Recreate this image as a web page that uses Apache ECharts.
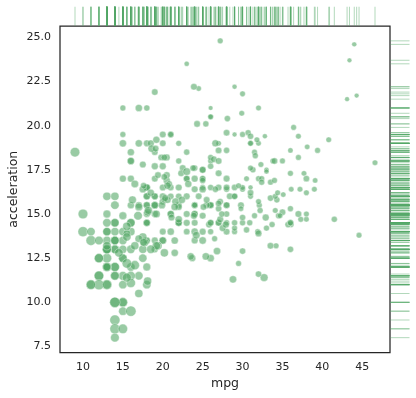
<!DOCTYPE html>
<html>
<head>
<meta charset="utf-8">
<script src="https://cdn.jsdelivr.net/npm/echarts@6/dist/echarts.min.js"></script>
<style>
  html, body { margin: 0; padding: 0; background: #fff; }
  #container { width: 416px; height: 398px; }
</style>
</head>
<body>
<div id="container"></div>
<script>
// auto-mpg: one entry per car, same order in all three arrays
var mpg = [
  18,15,18,16,17,15,14,14,14,15,15,14,15,14,
  24,22,18,21,27,26,25,24,25,26,21,10,10,11,9,
  27,28,25,25,19,16,17,19,18,14,14,14,14,12,13,13,
  18,22,19,18,23,28,30,30,31,35,27,26,24,25,23,20,21,
  13,14,15,14,17,11,13,12,13,19,15,13,13,14,
  18,22,21,26,22,28,23,28,27,
  13,14,13,14,15,12,13,13,14,13,12,13,
  18,16,18,18,23,26,
  11,12,13,12,
  18,20,21,22,18,19,21,26,
  15,16,
  29,24,20,19,
  15,24,20,11,
  20,21,19,15,
  31,26,32,25,
  16,16,18,16,13,14,14,14,
  29,26,26,31,32,28,24,26,24,26,31,
  19,18,15,15,
  16,15,16,14,
  17,16,15,18,
  21,20,13,
  29,23,20,23,24,25,24,18,29,19,23,23,22,25,33,28,25,25,26,27,
  17.5,16,15.5,14.5,
  22,22,24,22.5,
  29,24.5,29,33,
  20,18,18.5,17.5,
  29.5,32,28,26.5,20,
  13,19,19,
  16.5,16.5,13,13,13,
  31.5,30,36,25.5,33.5,
  17.5,17,15.5,15,
  17.5,20.5,19,18.5,
  16,15.5,15.5,16,
  29,24.5,26,25.5,30.5,33.5,30,30.5,
  22,21.5,21.5,
  43.1,36.1,32.8,39.4,36.1,
  19.9,19.4,20.2,19.2,20.5,20.2,25.1,20.5,19.4,20.6,20.8,18.6,18.1,19.2,17.7,18.1,17.5,
  30,27.5,27.2,30.9,21.1,23.2,23.8,23.9,
  20.3,17,21.6,16.2,
  31.5,29.5,21.5,19.8,22.3,20.2,20.6,
  17,17.6,16.5,18.2,16.9,15.5,19.2,18.5,
  31.9,34.1,35.7,27.4,25.4,23,27.2,23.9,
  34.2,34.5,31.8,37.3,28.4,28.8,26.8,33.5,41.5,38.1,32.1,37.2,28,26.4,24.3,19.1,
  34.3,29.8,31.3,37,32.2,46.6,27.9,40.8,44.3,43.4,36.4,30,44.6,40.9,33.8,29.8,
  32.7,23.7,35,23.6,32.4,27.2,26.6,25.8,23.5,30,
  39.1,39,35.1,32.3,37,37.7,34.1,34.7,34.4,29.9,33,34.5,33.7,32.4,32.9,31.6,
  28.1,30.7,25.4,24.2,22.4,26.6,20.2,17.6,
  28,27,34,31,29,27,24,23,36,37,31,38,36,36,36,34,38,32,38,25,38,26,22,32,36,27,27,44,32,28,31
];

var acceleration = [
  12,11.5,11,12,10.5,10,9,8.5,10,8.5,10,8,9.5,10,
  15,15.5,15.5,16,14.5,20.5,17.5,14.5,17.5,12.5,15,14,15,13.5,18.5,
  14.5,15.5,14,19,13,15.5,15.5,15.5,15.5,12,11.5,13.5,13,11.5,12,12,
  13.5,19,15,14.5,14,14,19.5,14.5,19,18,19,20.5,15.5,17,23.5,19.5,16.5,
  12,12,13.5,13,11.5,11,13.5,13.5,12.5,13.5,12.5,14,16,14,
  14.5,18,19.5,18,16,17,14.5,15,16.5,
  13,11.5,13,14.5,12.5,11.5,12,13,14.5,11,11,11,
  16.5,18,16,16.5,16,21,
  14,12.5,13,12.5,
  15,19,19.5,16.5,13.5,18.5,14,15.5,
  13,9.5,
  19.5,15.5,14,15.5,
  11,14,13.5,11,
  16.5,17,16,17,
  19,16.5,21,17,
  17,18,16.5,14,14.5,13.5,16,15.5,
  16.5,15.5,14.5,16.5,19,14.5,15.5,14,15,15.5,16,
  16,16,21,19.5,
  11.5,14,14.5,13.5,
  21,18.5,19,19,
  15,13.5,12,
  16,17,16,18.5,13.5,16.5,17,14.5,14,17,15,17,14.5,13.5,17.5,15.5,16.9,14.9,17.7,15.3,
  13,13,13.9,12.8,
  15.4,14.5,17.6,17.6,
  22.2,22.1,14.2,17.4,
  17.7,21,16.2,17.8,
  12.2,17,16.4,13.6,15.7,
  13.2,21.9,15.5,
  16.7,12.1,12,15,14,
  18.5,14.8,18.6,15.5,16.8,
  12.5,19,13.7,14.9,
  16.4,16.9,17.7,19,
  11.1,11.4,12.2,14.5,
  14.5,16,18.2,15.8,17,15.9,16.4,14.1,
  14.5,12.8,13.5,
  21.5,14.4,19.4,18.6,16.4,
  15.5,13.2,12.8,19.2,18.2,15.8,15.4,17.2,17.2,15.8,16.7,18.7,15.1,13.2,13.4,11.2,13.7,
  16.5,14.2,14.7,14.5,14.8,16.7,17.6,14.9,
  15.9,13.6,15.7,15.8,
  14.9,16.6,15.4,18.2,17.3,18.2,16.6,
  15.4,13.4,13.2,15.2,14.9,14.3,15,13,
  14,15.2,14.4,15,20.1,17.4,24.8,22.2,
  13.2,14.9,19.2,14.7,16,11.3,12.9,13.2,14.7,18.8,15.5,16.4,16.5,18.1,20.1,18.7,
  15.8,15.5,17.5,15,15.2,17.9,14.4,19.2,21.7,23.7,19.9,21.8,13.8,17.3,18,15.3,
  11.4,12.5,15.1,14.3,17,15.7,16.4,14.4,12.6,12.9,
  16.9,16.4,16.1,17.8,19.4,17.3,16,14.9,16.2,20.7,14.2,15.8,14.4,16.8,14.8,18.3,
  20.4,19.6,12.6,13.8,15.8,19,17.1,16.6,
  19.6,18.6,18,16.2,16,18,16.4,20.5,15.3,18.2,17.6,14.7,17.3,14.5,14.5,16.9,15,15.7,16.2,16.4,17,14.5,14.7,13.9,13,17.3,15.6,24.6,11.6,18.6,19.4
];

// marker size variable (null = missing, point not drawn)
var horsepower = [
  130,165,150,150,140,198,220,215,225,190,170,160,150,225,
  95,95,97,85,88,46,87,90,95,113,90,215,200,210,193,
  88,90,95,null,100,105,100,88,100,165,175,153,150,180,170,175,
  110,72,100,88,86,90,70,76,65,69,60,70,95,80,54,90,86,
  165,175,150,153,150,208,155,160,190,97,150,130,140,150,
  112,76,87,69,86,92,97,80,88,
  175,150,145,137,150,198,150,158,150,215,225,175,
  105,100,100,88,95,46,
  150,167,170,180,
  100,88,72,94,90,85,107,90,
  145,230,
  49,75,91,112,
  150,110,122,180,
  95,null,100,100,
  67,80,65,75,
  100,110,105,140,150,150,140,150,
  83,67,78,52,61,75,75,75,97,93,67,
  95,105,72,72,
  170,145,150,148,
  110,105,110,95,
  110,110,129,
  75,83,100,78,96,71,97,97,70,90,95,88,98,115,53,86,81,92,79,83,
  140,150,120,152,
  100,105,81,90,
  52,60,70,53,
  100,78,110,95,
  71,70,75,72,102,
  150,88,108,
  120,180,145,130,150,
  68,80,58,96,70,
  145,110,145,130,
  110,105,100,98,
  180,170,190,149,
  78,88,75,89,63,83,67,78,
  97,110,110,
  48,66,52,70,60,
  110,140,139,105,95,85,88,100,90,105,85,110,120,145,165,139,140,
  68,95,97,75,95,105,85,97,
  103,125,115,133,
  71,68,115,85,88,90,110,
  130,129,138,135,155,142,125,150,
  71,65,80,80,77,125,71,90,
  70,70,65,69,90,115,115,90,76,60,70,65,90,88,90,90,
  78,90,75,92,75,65,105,65,48,48,67,67,67,null,67,62,
  132,100,88,null,72,84,84,92,110,84,
  58,64,60,67,65,62,68,63,65,65,74,null,75,75,100,74,
  80,76,116,120,110,105,88,85,
  88,88,88,85,84,90,92,null,74,68,68,63,70,88,75,70,67,67,67,110,85,92,112,96,84,90,86,52,84,79,82
];

var xTicks = [10, 15, 20, 25, 30, 35, 40, 45];
var yTicks = [7.5, 10, 12.5, 15, 17.5, 20, 22.5, 25];

var myChart = echarts.init(document.getElementById('container'));

var n = Math.min(mpg.length, acceleration.length, horsepower.length);
var points = [];
var rugX = [];
var rugY = [];
for (var i = 0; i < n; i++) {
  rugX.push([mpg[i], 0.5]);
  rugY.push([0.5, acceleration[i]]);
  if (horsepower[i] != null) points.push([mpg[i], acceleration[i], horsepower[i]]);
}

var hpMin = 46, hpMax = 230;
var green = '#55a868';
var ink = '#262626';
var font = 'DejaVu Sans';

var option = {
  animation: false,
  backgroundColor: '#fff',
  grid: [
    { left: 60, top: 26, width: 330, height: 326.5, show: true, borderColor: ink, borderWidth: 1.25, outerBoundsMode: 'none' },
    { left: 60, top: 6.5, width: 330, height: 19.5, outerBoundsMode: 'none' },
    { left: 390, top: 26, width: 20, height: 326.5, outerBoundsMode: 'none' }
  ],
  xAxis: [
    {
      gridIndex: 0, type: 'value', min: 7.12, max: 48.48,
      name: 'mpg', nameLocation: 'middle', nameGap: 25, nameMoveOverlap: false,
      nameTextStyle: { fontFamily: font, fontSize: 12.5, color: ink },
      axisLine: { show: false }, axisTick: { show: false }, splitLine: { show: false },
      axisLabel: {
        customValues: xTicks, margin: 9, fontFamily: font, fontSize: 11, color: ink,
        formatter: function (v) { return String(v); }
      }
    },
    { gridIndex: 1, type: 'value', min: 7.12, max: 48.48, show: false },
    { gridIndex: 2, type: 'value', min: 0, max: 1, show: false }
  ],
  yAxis: [
    {
      gridIndex: 0, type: 'value', min: 7.16, max: 25.64,
      name: 'acceleration', nameLocation: 'middle', nameGap: 40, nameRotate: 90, nameMoveOverlap: false,
      nameTextStyle: { fontFamily: font, fontSize: 12.5, color: ink },
      axisLine: { show: false }, axisTick: { show: false }, splitLine: { show: false },
      axisLabel: {
        customValues: yTicks, margin: 9, fontFamily: font, fontSize: 11, color: ink,
        formatter: function (v) { return v.toFixed(1); }
      }
    },
    { gridIndex: 1, type: 'value', min: 0, max: 1, show: false },
    { gridIndex: 2, type: 'value', min: 7.16, max: 25.64, show: false }
  ],
  series: [
    {
      name: 'cars',
      type: 'scatter',
      xAxisIndex: 0, yAxisIndex: 0,
      data: points,
      symbolSize: function (d) {
        return Math.sqrt(22 + (d[2] - hpMin) / (hpMax - hpMin) * 86);
      },
      itemStyle: { color: green, opacity: 0.6, borderColor: '#fff', borderWidth: 0.6 },
      emphasis: { disabled: true }
    },
    {
      name: 'rug mpg',
      type: 'scatter',
      xAxisIndex: 1, yAxisIndex: 1,
      data: rugX,
      symbol: 'rect',
      symbolSize: [1, 19],
      itemStyle: { color: green, opacity: 0.45 },
      emphasis: { disabled: true }
    },
    {
      name: 'rug acceleration',
      type: 'scatter',
      xAxisIndex: 2, yAxisIndex: 2,
      data: rugY,
      symbol: 'rect',
      symbolSize: [19, 1],
      itemStyle: { color: green, opacity: 0.45 },
      emphasis: { disabled: true }
    }
  ]
};

myChart.setOption(option);
</script>
</body>
</html>
